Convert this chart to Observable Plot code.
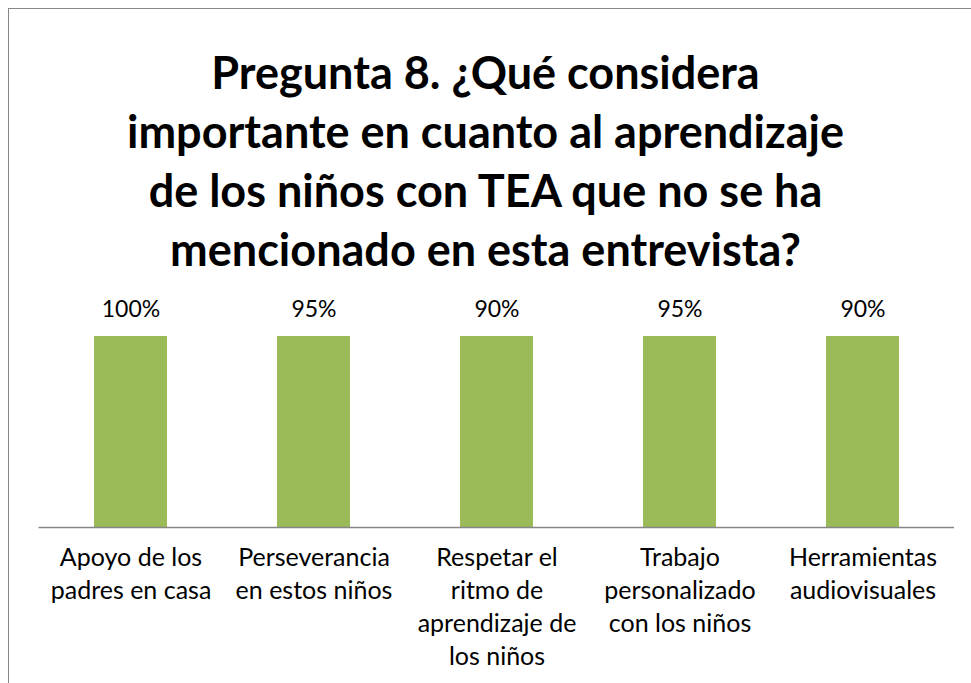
<!DOCTYPE html>
<html>
<head>
<meta charset="utf-8">
<script src="https://cdn.jsdelivr.net/npm/d3@7"></script>
<script src="https://cdn.jsdelivr.net/npm/@observablehq/plot@0.6"></script>
<style>
  html, body { margin: 0; padding: 0; background: #fff; overflow: hidden; }
  body { width: 971px; height: 683px; position: relative; font-family: Lato, "Open Sans", sans-serif; }
  #frame { position: absolute; left: 8px; top: 8px; width: 2000px; height: 2000px;
           border-left: 1px solid #888; border-top: 1px solid #888; pointer-events: none; }
  #title { margin: 0; padding-top: 43px; height: 237px; text-align: center; font-weight: 700;
           font-size: 45px; line-height: 59px; color: #000; font-family: Lato, sans-serif; }
  #chart svg { display: block; }
</style>
</head>
<body>
<div id="frame"></div>
<div id="title">Pregunta 8. ¿Qué considera<br>importante en cuanto al aprendizaje<br>de los niños con TEA que no se ha<br>mencionado en esta entrevista?</div>
<div id="chart"></div>
<script>
const categories = [
  "Apoyo de los padres en casa",
  "Perseverancia en estos niños",
  "Respetar el ritmo de aprendizaje de los niños",
  "Trabajo personalizado con los niños",
  "Herramientas audiovisuales"
];
const tickLabels = [
  "Apoyo de los\npadres en casa",
  "Perseverancia\nen estos niños",
  "Respetar el\nritmo de\naprendizaje de\nlos niños",
  "Trabajo\npersonalizado\ncon los niños",
  "Herramientas\naudiovisuales"
];
const percentLabels = ["100%", "95%", "90%", "95%", "90%"];
const barHeights = [1, 1, 1, 1, 1];

const data = categories.map((c, i) => ({
  cat: c, tick: tickLabels[i], pct: percentLabels[i], h: barHeights[i]
}));

const chart = Plot.plot({
  width: 971,
  height: 403,
  marginLeft: 38.5,
  marginRight: 17,
  marginTop: 56,
  marginBottom: 156,
  style: { fontFamily: "Lato, sans-serif", background: "transparent", color: "#000" },
  x: { domain: categories, paddingInner: 0.6, paddingOuter: 0.3, axis: null },
  y: { domain: [0, 1], axis: null },
  marks: [
    Plot.barY(data, { x: "cat", y: "h", fill: "#9BBB59" }),
    Plot.ruleY([0], { stroke: "#868686", strokeWidth: 1.5 }),
    Plot.text(data, { x: "cat", y: "h", text: "pct", dy: -27, fontSize: 23, fill: "#000" }),
    Plot.text(data, { x: "cat", y: 0, text: "tick", lineAnchor: "top", dy: 15, fontSize: 25, lineHeight: 1.32, fill: "#000" })
  ]
});
document.getElementById("chart").appendChild(chart);
</script>
</body>
</html>
